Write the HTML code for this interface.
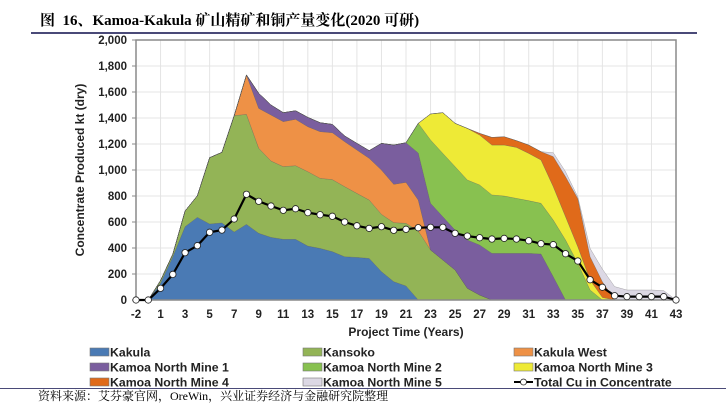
<!DOCTYPE html>
<html><head><meta charset="utf-8">
<style>
body{margin:0;background:#fff;width:726px;height:420px;overflow:hidden;position:relative;font-family:"Liberation Sans","Noto Sans CJK SC",sans-serif;}
#title{position:absolute;left:40px;top:9px;font-family:"Liberation Serif","Noto Serif CJK SC",serif;font-weight:bold;font-size:15px;color:#000;white-space:nowrap;}
#tline{position:absolute;left:31px;top:32px;width:666px;height:2px;background:#4a4a78;}
#fline{position:absolute;left:0;top:388px;width:726px;height:1px;background:#4a4a78;}
#foot{position:absolute;left:38px;top:387px;font-family:"Liberation Serif","Noto Serif CJK SC",serif;font-size:12px;color:#000;white-space:nowrap;}
svg{position:absolute;left:0;top:0;}
text{font-family:"Liberation Sans",sans-serif;}
</style></head><body>
<div id="title">图&nbsp;&nbsp;16、Kamoa-Kakula 矿山精矿和铜产量变化(2020 可研)</div>
<div id="tline"></div>
<svg id="chart" width="726" height="420"></svg>
<div id="fline"></div>
<div id="foot">资料来源：艾芬豪官网，OreWin，兴业证券经济与金融研究院整理</div>
<script>
const categories=[-2,-1,1,2,3,4,5,6,7,8,9,10,11,12,13,14,15,16,17,18,19,20,21,22,23,24,25,26,27,28,29,30,31,32,33,34,35,36,37,38,39,40,41,42,43];
const yTicks=[0,200,400,600,800,1000,1200,1400,1600,1800,2000];
const yTickLabels=["0","200","400","600","800","1,000","1,200","1,400","1,600","1,800","2,000"];
const kakula=[0,0,130,333,564,636,585,593,523,582,513,482,467,467,415,397,372,333,328,320,218,141,108,0,0,0,0,0,0,0,0,0,0,0,0,0,0,0,0,0,0,0,0,0,0];
const kansoko=[0,0,20,20,121,166,510,543,895,846,654,587,559,566,572,539,554,539,492,449,441,454,482,530,385,308,231,90,38,0,0,0,0,0,0,0,0,0,0,0,0,0,0,0,0];
const kakulaWest=[0,0,0,0,0,0,0,0,0,303,307,354,346,357,346,359,361,346,334,321,341,295,315,239,0,0,0,0,0,0,0,0,0,0,0,0,0,0,0,0,0,0,0,0,0];
const kn1=[0,0,0,0,0,0,0,0,0,0,116,77,69,66,72,69,64,44,51,59,205,302,305,362,359,333,307,372,385,359,359,359,359,354,179,0,0,0,0,0,0,0,0,0,0];
const kn2=[0,0,0,0,0,0,0,0,0,0,0,0,0,0,0,0,0,0,0,0,0,0,0,228,487,487,488,461,462,449,441,423,405,390,436,462,282,77,0,0,0,0,0,0,0];
const kn3=[0,0,0,0,0,0,0,0,0,0,0,0,0,0,0,0,0,0,0,0,0,0,0,0,200,313,333,397,384,384,392,392,364,333,257,179,128,77,20,0,0,0,0,0,0];
const kn4=[0,0,0,0,0,0,0,0,0,0,0,0,0,0,0,0,0,0,0,0,0,0,0,0,0,0,0,0,13,59,64,52,64,64,231,308,370,179,121,0,0,0,0,0,0];
const kn5=[0,0,0,0,0,0,0,0,0,0,0,0,0,0,0,0,0,0,0,0,0,0,0,0,0,0,0,0,0,0,0,0,0,0,30,38,13,64,97,103,77,77,77,72,0];
const totalCu=[0,0,90,197,364,418,521,538,623,813,759,723,690,702,672,656,644,600,571,551,564,536,544,556,559,559,513,492,479,469,474,469,456,433,426,356,300,156,98,33,26,26,26,26,0];
const seriesNames=["Kakula","Kansoko","Kakula West","Kamoa North Mine 1","Kamoa North Mine 2","Kamoa North Mine 3","Kamoa North Mine 4","Kamoa North Mine 5"];
const seriesData=[kakula,kansoko,kakulaWest,kn1,kn2,kn3,kn4,kn5];
const colors=["#4a7ab4","#93b456","#ee9146","#7a5e9e","#88c150","#eeea36","#e06a1a","#dcd8e4"];

const NS="http://www.w3.org/2000/svg";
const svg=document.getElementById('chart');
const L=136,R=676,T=40,B=300,YMAX=2000;
const xs=i=>L+i*(R-L)/(categories.length-1);
const ys=v=>B-v/YMAX*(B-T);
function mk(tag,attrs,parent){const e=document.createElementNS(NS,tag);for(const k in attrs)e.setAttribute(k,attrs[k]);(parent||svg).appendChild(e);return e;}

yTicks.forEach((v,i)=>{
 const g=mk('line',{x1:L,x2:R,y1:ys(v),y2:ys(v),stroke:'#e4e4e4','stroke-width':1});
 
 
 const t=mk('text',{x:L-9,y:ys(v)+4,'text-anchor':'end','font-size':11.5,'font-weight':'bold',fill:'#222'});
 t.textContent=yTickLabels[i];
 
 
 const tk=mk('line',{x1:L-4,x2:L,y1:ys(v),y2:ys(v),stroke:'#888'});
 
 
});
categories.forEach((c,i)=>{
 if(i%2===0){
  const g=mk('line',{x1:xs(i),x2:xs(i),y1:T,y2:B,stroke:'#e4e4e4','stroke-width':1});
  
  
  const t=mk('text',{x:xs(i),y:318,'text-anchor':'middle','font-size':11.5,'font-weight':'bold',fill:'#222'});
  t.textContent=String(c);
  
  
 }
});
let base=categories.map(()=>0);
seriesData.forEach((arr,s)=>{
 const top=base.map((b,i)=>b+arr[i]);
 let d='M'+categories.map((c,i)=>xs(i)+','+ys(top[i])).join(' L');
 for(let i=categories.length-1;i>=0;i--)d+=' L'+xs(i)+','+ys(base[i]);
 d+='Z';
 const p=mk('path',{d:d,fill:colors[s],stroke:'#555','stroke-width':0.4,'stroke-opacity':0.6});
 
 
 base=top;
});
const fr=mk('rect',{x:L,y:T,width:R-L,height:B-T,fill:'none',stroke:'#8a8a8a','stroke-width':1.5});


const ln=mk('polyline',{points:totalCu.map((v,i)=>xs(i)+','+ys(v)).join(' '),fill:'none',stroke:'#000','stroke-width':2.2});


totalCu.forEach((v,i)=>{
 const c=mk('circle',{cx:xs(i),cy:ys(v),r:3.2,fill:'#fff',stroke:'#222','stroke-width':0.8});
 
 
});
const xt=mk('text',{x:406,y:336,'text-anchor':'middle','font-size':12,'font-weight':'bold',fill:'#222'});
xt.textContent='Project Time (Years)';


const yt=mk('text',{x:0,y:0,'text-anchor':'middle','font-size':12,'font-weight':'bold',fill:'#222',transform:'translate(84,170) rotate(-90)'});
yt.textContent='Concentrate Produced kt (dry)';


const legX=[90,303,514],legY=[352,367,382];
const legendItems=seriesNames.concat(['Total Cu in Concentrate']);
legendItems.forEach((n,k)=>{
 const col=k%3,row=Math.floor(k/3);
 const g=mk('g',{});
 
 
 const x=legX[col],y=legY[row];
 if(k<8){mk('rect',{x:x,y:y-4,width:19,height:8,fill:colors[k],stroke:'#777','stroke-width':0.6},g);}
 else{mk('line',{x1:x,x2:x+19,y1:y,y2:y,stroke:'#000','stroke-width':2},g);mk('circle',{cx:x+9.5,cy:y,r:3,fill:'#fff',stroke:'#222','stroke-width':0.8},g);}
 const t=mk('text',{x:x+20,y:y+4.5,'font-size':12.3,'font-weight':'bold',fill:'#222'},g);
 t.textContent=n;
});
</script>
</body></html>
